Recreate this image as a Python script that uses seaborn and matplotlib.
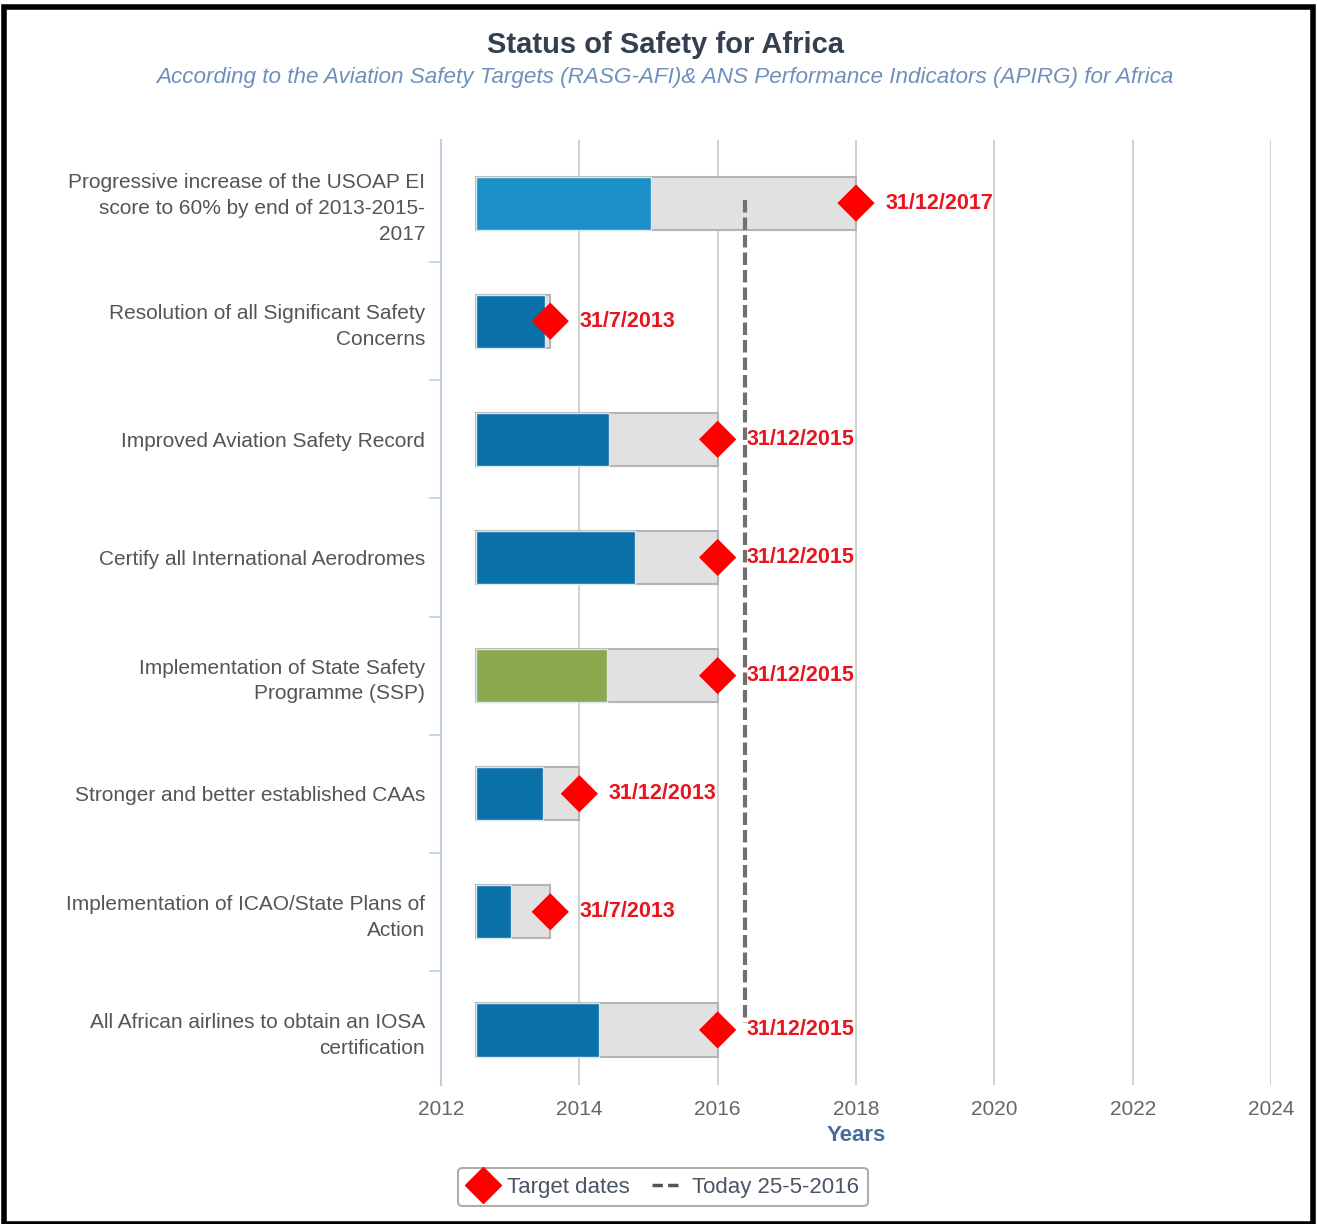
import matplotlib
matplotlib.use('Agg')
import matplotlib.pyplot as plt
import seaborn as sns
import pandas as pd
from matplotlib.lines import Line2D
from matplotlib.patches import Rectangle

sns.set_theme(style='white')
plt.rcParams['font.family'] = ['Liberation Sans', 'DejaVu Sans']

goals = [
    'Progressive increase of the USOAP EI\nscore to 60% by end of 2013-2015-\n2017',
    'Resolution of all Significant Safety\nConcerns',
    'Improved Aviation Safety Record',
    'Certify all International Aerodromes',
    'Implementation of State Safety\nProgramme (SSP)',
    'Stronger and better established CAAs',
    'Implementation of ICAO/State Plans of\nAction',
    'All African airlines to obtain an IOSA\ncertification',
]
start = [2012.5] * 8
progress = [2015.04, 2013.51, 2014.43, 2014.81, 2014.40, 2013.48, 2013.01, 2014.29]
target = [2018.0, 2013.58, 2016.0, 2016.0, 2016.0, 2014.0, 2013.58, 2016.0]
target_labels = ['31/12/2017', '31/7/2013', '31/12/2015', '31/12/2015',
                 '31/12/2015', '31/12/2013', '31/7/2013', '31/12/2015']
bar_colors = ['#1b90c8', '#0a70a8', '#0a70a8', '#0a70a8',
              '#8aa84e', '#0a70a8', '#0a70a8', '#0a70a8']
today = 2016.4

df = pd.DataFrame({'goal': goals, 'start': start, 'progress': progress,
                   'target': target, 'label': target_labels,
                   'pos': range(len(goals))})

fig = plt.figure(figsize=(13.17, 12.24), dpi=100)
ax = fig.add_axes([441 / 1317, 1 - 1085 / 1224, (1271 - 441) / 1317, (1085 - 140) / 1224])

# grid
for yr in range(2014, 2025, 2):
    ax.axvline(yr, color='#c8c8c8', lw=1.2, zorder=0)

# target (gray) bars then progress bars
ax.barh(df.pos, df.target - df.start, left=df.start, height=0.45,
        color='#e1e1e1', edgecolor='#b4b4b4', lw=1.5, zorder=2)
ax.barh(df.pos, df.progress - df.start, left=df.start, height=0.45,
        color=bar_colors, edgecolor='#d8e8f0', lw=1.0, zorder=3)

# today line
ax.plot([today, today], [-0.03, 6.94], color='#707070', lw=3,
        ls=(0, (3, 1.2)), zorder=4)

sns.scatterplot(data=df, x='target', y='pos', marker='D', s=360,
                color='#ff0000', edgecolor='none', zorder=5, ax=ax, legend=False)
for _, r in df.iterrows():
    ax.annotate(r.label, (r.target, r.pos), xytext=(21, 0), textcoords='offset points',
                va='center', ha='left', color='#e8141e', fontsize=15.5,
                fontweight='bold', zorder=6)

ax.set_xlim(2012, 2024)
ax.set_ylim(7.466, -0.534)
ax.set_xticks(range(2012, 2025, 2))
ax.tick_params(axis='x', length=0, labelsize=15, labelcolor='#666666', pad=11)
ax.set_yticks(df.pos)
ax.set_yticklabels(goals, fontsize=15, color='#555555', linespacing=1.45)
ax.set_yticks([i + 0.5 for i in range(7)], minor=True)
ax.tick_params(axis='y', which='major', length=0, pad=11.5)
ax.tick_params(axis='y', which='minor', length=9, width=1.2, color='#c0d0e0', left=True)
ax.set_xlabel('Years', fontsize=16, fontweight='bold', color='#4a6d98', labelpad=4)
ax.set_ylabel(None)
sns.despine(ax=ax, top=True, right=True, bottom=True)
ax.spines['left'].set_color('#c0d0e0')
ax.spines['left'].set_linewidth(1.5)

fig.text(0.505, 1 - 45 / 1224, 'Status of Safety for Africa', ha='center', va='center',
         fontsize=21, fontweight='bold', color='#34404f')
fig.text(0.505, 1 - 77 / 1224,
         'According to the Aviation Safety Targets (RASG-AFI)& ANS Performance Indicators (APIRG) for Africa',
         ha='center', va='center', fontsize=16.2, style='italic', color='#6f8fbb')

handles = [Line2D([], [], marker='D', color='#ff0000', ls='none', markersize=18),
           Line2D([], [], color='#555555', lw=2.5, ls=(0, (3, 1.5)))]
leg = fig.legend(handles, ['Target dates', 'Today 25-5-2016'], ncol=2,
                 loc='center', bbox_to_anchor=(663 / 1317, 1 - 1187 / 1224),
                 frameon=True, fancybox=True, edgecolor='#999999', fontsize=16,
                 handlelength=1.4, handletextpad=0.4, columnspacing=1.0,
                 borderpad=0.4)
for t in leg.get_texts():
    t.set_color('#4a5566')
leg.get_frame().set_linewidth(1.5)

fig.patches.append(Rectangle((0.003, 0.0), 0.994, 0.994, transform=fig.transFigure,
                             fill=False, edgecolor='black', lw=4))

fig.savefig('out.png', dpi=100)
plt.close()
